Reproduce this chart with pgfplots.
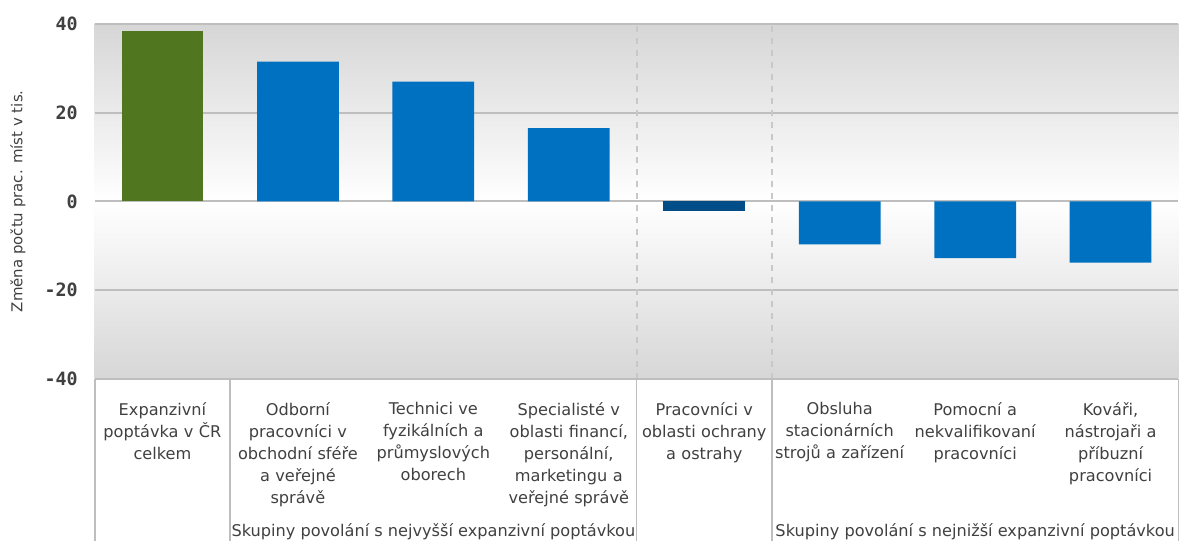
\documentclass[border=0pt]{standalone}
\usepackage{pgfplots}
\pgfplotsset{compat=1.18}
\usepackage{fontspec}
\setmainfont{DejaVu Sans}
\newfontfamily\monofont{DejaVu Sans Mono}

\definecolor{barGreen}{RGB}{80,118,32}
\definecolor{barBlue}{RGB}{0,112,192}
\definecolor{barDark}{RGB}{0,77,135}
\definecolor{gridGray}{RGB}{190,190,190}
\definecolor{txt}{RGB}{64,64,64}

\begin{document}
\begin{tikzpicture}
\begin{axis}[
  scale only axis,
  width=543.5pt, height=178pt,
  xmin=-0.5, xmax=7.5,
  ymin=-40, ymax=40,
  ytick={-40,-20,0,20,40},
  axis line style={draw=none},
  tick style={draw=none},
  ymajorgrids,
  grid style={gridGray, line width=1pt},
  axis background/.style={shade, top color=black!16, bottom color=black!16, middle color=white},
  ybar, bar width=41pt, bar shift=0pt,
  xtick={0,...,7},
  xticklabels={
    {Expanzivní\\poptávka v ČR\\celkem},
    {Odborní\\pracovníci v\\obchodní sféře\\a veřejné\\správě},
    {Technici ve\\fyzikálních a\\průmyslových\\oborech},
    {Specialisté v\\oblasti financí,\\personální,\\marketingu a\\veřejné správě},
    {Pracovníci v\\oblasti ochrany\\a ostrahy},
    {Obsluha\\stacionárních\\strojů a zařízení},
    {Pomocní a\\nekvalifikovaní\\pracovníci},
    {Kováři,\\nástrojaři a\\příbuzní\\pracovníci}},
  xticklabel style={text width=70pt, align=center, font=\fontsize{8.1}{11.1}\selectfont, text=txt, yshift=-4pt},
  /pgf/number format/assume math mode=true,
  yticklabel style={font=\monofont\bfseries\fontsize{9.2}{11}\selectfont, text=txt, xshift=-5pt},
  ylabel={Změna počtu prac. míst v tis.},
  ylabel style={at={(axis description cs:-0.0708,0.5)}, anchor=center, font=\fontsize{7.5}{9}\selectfont, text=txt},
  clip=false,
]
\addplot[fill=barGreen, draw=none] coordinates {(0,38.5)};
\addplot[fill=barBlue, draw=none] coordinates {(1,31.5) (2,27) (3,16.5) (5,-9.7) (6,-12.8) (7,-13.8)};
\addplot[fill=barDark, draw=none] coordinates {(4,-2.1)};

% separators between groups
\draw[gridGray!85, dashed, line width=1pt] (axis cs:3.5,-40) -- (axis cs:3.5,40);
\draw[gridGray!85, dashed, line width=1pt] (axis cs:4.5,-40) -- (axis cs:4.5,40);

% table under the plot
\draw[gridGray, line width=0.8pt] (axis cs:-0.5,-40) -- (axis cs:7.5,-40);
\draw[gridGray, line width=0.8pt] (axis cs:-0.5,-40) -- ++(0pt,-81.5pt);
\draw[gridGray, line width=0.8pt] (axis cs:0.5,-40) -- ++(0pt,-81.5pt);
\draw[gridGray, line width=0.8pt] (axis cs:3.5,-40) -- ++(0pt,-81.5pt);
\draw[gridGray, line width=0.8pt] (axis cs:4.5,-40) -- ++(0pt,-81.5pt);
\draw[gridGray, line width=0.8pt] (axis cs:7.5,-40) -- ++(0pt,-81.5pt);
\node[font=\fontsize{8.1}{10}\selectfont, text=txt] at (axis cs:2,-40) [yshift=-76.5pt] {Skupiny povolání s nejvyšší expanzivní poptávkou};
\node[font=\fontsize{8.1}{10}\selectfont, text=txt] at (axis cs:6,-40) [yshift=-76.5pt] {Skupiny povolání s nejnižší expanzivní poptávkou};

% page size
\path (rel axis cs:0,0) ++(-47.5pt,-81.5pt);
\path (rel axis cs:1,1) ++(2pt,12pt);
\end{axis}
\end{tikzpicture}
\end{document}
